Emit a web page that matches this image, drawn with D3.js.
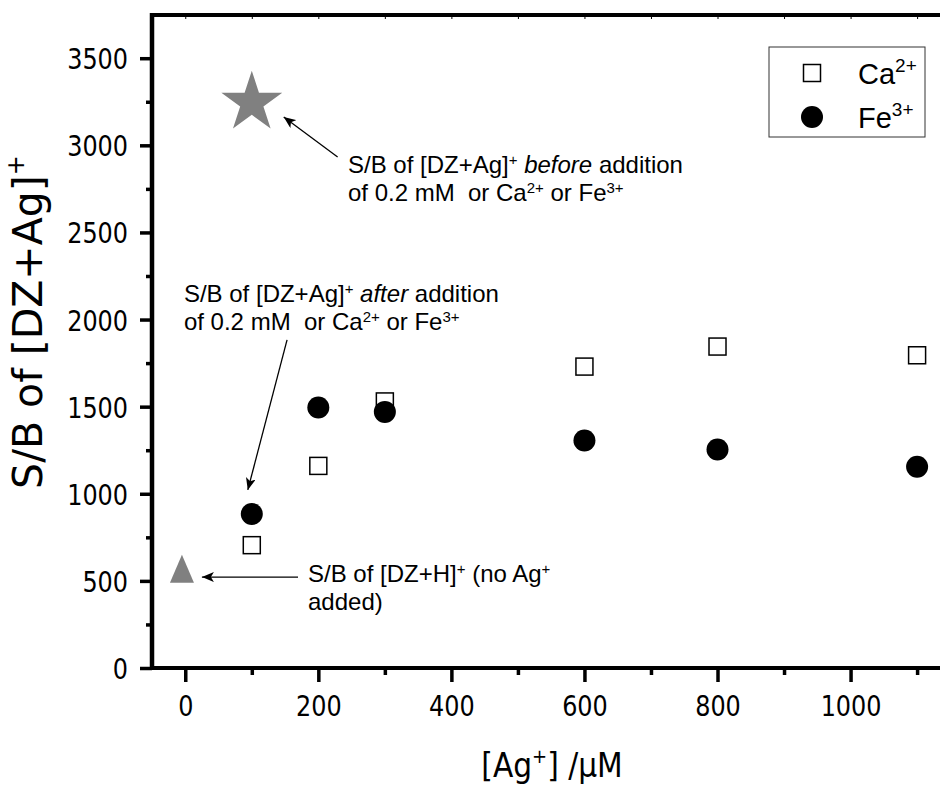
<!DOCTYPE html>
<html>
<head>
<meta charset="utf-8">
<script src="https://cdn.jsdelivr.net/npm/d3@7"></script>
<style>
  body { margin: 0; background: #fff; }
  svg { display: block; }
  .tick text { font-family: "DejaVu Sans Condensed", "DejaVu Sans", sans-serif; font-stretch: condensed; font-size: 29px; fill: #000; }
  .ann { font-family: "Liberation Sans", Arial, sans-serif; font-size: 24px; fill: #000; white-space: pre; }
</style>
</head>
<body>
<div id="chart"></div>
<script>
// data
var agConc = [100, 200, 300, 600, 800, 1100];
var caValues = [705, 1160, 1530, 1730, 1845, 1795];
var feValues = [884, 1495, 1470, 1306, 1254, 1155];
var beforePoint = [100, 3245];   // star
var noAgPoint = [-5, 570];       // triangle
var xTicks = [0, 200, 400, 600, 800, 1000];
var xMinor = [100, 300, 500, 700, 900, 1100];
var yTicks = [0, 500, 1000, 1500, 2000, 2500, 3000, 3500];
var yMinor = [250, 750, 1250, 1750, 2250, 2750, 3250];

var W = 940, H = 785;
var mLeft = 152, mTop = 15, mBottom = 668;

var svg = d3.select("#chart").append("svg")
  .attr("width", W).attr("height", H);

var x = d3.scaleLinear().domain([-50, 1150]).range([mLeft, mLeft + 1200 * 0.6653]);
var y = d3.scaleLinear().domain([0, 3748]).range([mBottom, mTop]);

// arrow head
svg.append("defs").append("marker")
  .attr("id", "head")
  .attr("viewBox", "0 0 12 10")
  .attr("refX", 12).attr("refY", 5)
  .attr("markerWidth", 12).attr("markerHeight", 10)
  .attr("markerUnits", "userSpaceOnUse")
  .attr("orient", "auto")
  .append("path").attr("d", "M0,0 L12,5 L0,10 L3,5 Z").attr("fill", "#000");

// axes
var fmt = d3.format("d");
var gx = svg.append("g").attr("transform", "translate(0," + mBottom + ")")
  .call(d3.axisBottom(x).tickValues(xTicks).tickFormat(fmt).tickSize(14).tickSizeOuter(0));
var gxm = svg.append("g").attr("transform", "translate(0," + mBottom + ")")
  .call(d3.axisBottom(x).tickValues(xMinor).tickSize(7).tickSizeOuter(0).tickFormat(""));
var gy = svg.append("g").attr("transform", "translate(" + mLeft + ",0)")
  .call(d3.axisLeft(y).tickValues(yTicks).tickFormat(fmt).tickSize(12).tickSizeOuter(0).tickPadding(12));
var gym = svg.append("g").attr("transform", "translate(" + mLeft + ",0)")
  .call(d3.axisLeft(y).tickValues(yMinor).tickSize(6).tickSizeOuter(0).tickFormat(""));
var gt = svg.append("g").attr("transform", "translate(0," + mTop + ")")
  .call(d3.axisBottom(x).tickValues(xTicks.concat(xMinor)).tickSize(4).tickSizeOuter(0).tickFormat(""));

[gx, gxm, gy, gym, gt].forEach(function(g){
  g.select(".domain").remove();
  g.selectAll(".tick line").attr("stroke", "#000").attr("stroke-width", 3.5);
});
gt.selectAll(".tick line").attr("stroke-width", 1);
gx.selectAll(".tick text").attr("y", 48).attr("dy", 0);
gy.selectAll(".tick text").attr("dy", "0.36em");
// narrow digits like the original
[gx, gy].forEach(function(g){
  g.selectAll(".tick text").each(function(){
    var s = d3.select(this);
    s.attr("textLength", s.text().length * 15.2).attr("lengthAdjust", "spacingAndGlyphs");
  });
});

// frame lines
svg.append("line").attr("x1", mLeft - 2).attr("x2", W + 10).attr("y1", mBottom).attr("y2", mBottom)
  .attr("stroke", "#000").attr("stroke-width", 4);
svg.append("line").attr("x1", mLeft - 2).attr("x2", W + 10).attr("y1", mTop).attr("y2", mTop)
  .attr("stroke", "#000").attr("stroke-width", 4);
svg.append("line").attr("x1", mLeft).attr("x2", mLeft).attr("y1", mTop - 2).attr("y2", mBottom + 2)
  .attr("stroke", "#000").attr("stroke-width", 4.5);

// axis titles
svg.append("text")
  .attr("transform", "translate(42," + 322 + ") rotate(-90)")
  .attr("text-anchor", "middle")
  .style("font-family", "'DejaVu Sans', sans-serif").style("font-size", "41px")
  .call(function(t){
    t.append("tspan").text("S/B of [DZ+Ag]");
    t.append("tspan").attr("dy", -18).style("font-size", "24px").text("+");
  });

svg.append("text")
  .attr("x", 552).attr("y", 777)
  .attr("text-anchor", "middle")
  .style("font-family", "'DejaVu Sans Condensed', 'DejaVu Sans', sans-serif")
  .style("font-stretch", "condensed").style("font-size", "33px")
  .call(function(t){
    t.append("tspan").text("[Ag");
    t.append("tspan").attr("dy", -14).style("font-size", "20px").text("+");
    t.append("tspan").attr("dy", 14).text("] /\u03bcM");
  });

// data marks
svg.append("g").selectAll("rect").data(agConc).join("rect")
  .attr("x", function(d){ return x(d) - 8.5; })
  .attr("y", function(d, i){ return y(caValues[i]) - 8.5; })
  .attr("width", 17).attr("height", 17)
  .attr("fill", "#fff").attr("stroke", "#000").attr("stroke-width", 1.5);

svg.append("g").selectAll("circle").data(agConc).join("circle")
  .attr("cx", function(d){ return x(d); })
  .attr("cy", function(d, i){ return y(feValues[i]); })
  .attr("r", 11).attr("fill", "#000");

svg.append("path")
  .attr("d", d3.symbol(d3.symbolStar, 1150)())
  .attr("transform", "translate(" + x(beforePoint[0]) + "," + y(beforePoint[1]) + ")")
  .attr("fill", "#808080");

svg.append("path")
  .attr("d", "M0,-14 L12,14 L-12,14 Z")
  .attr("transform", "translate(" + x(noAgPoint[0]) + "," + y(noAgPoint[1]) + ")")
  .attr("fill", "#808080");

// annotations (positions in data units)
var arrows = [
  {from: [229, 2933], to: [148, 3163]},
  {from: [153, 1883], to: [94, 1022]},
  {from: [169.5, 522], to: [25, 522]}
];
svg.append("g").selectAll("line").data(arrows).join("line")
  .attr("x1", function(d){ return x(d.from[0]); })
  .attr("y1", function(d){ return y(d.from[1]); })
  .attr("x2", function(d){ return x(d.to[0]); })
  .attr("y2", function(d){ return y(d.to[1]); })
  .attr("stroke", "#000").attr("stroke-width", 1.3)
  .attr("marker-end", "url(#head)");

var notes = [
  {at: [244.6, 2843], lines: [
    [{t: "S/B of [DZ+Ag]"}, {t: "+", sup: 1}, {t: " "}, {t: "before", it: 1}, {t: " addition"}],
    [{t: "of 0.2 mM  or Ca"}, {t: "2+", sup: 1}, {t: " or Fe"}, {t: "3+", sup: 1}]
  ]},
  {at: [-2, 2101], lines: [
    [{t: "S/B of [DZ+Ag]"}, {t: "+", sup: 1}, {t: " "}, {t: "after", it: 1}, {t: " addition"}],
    [{t: "of 0.2 mM  or Ca"}, {t: "2+", sup: 1}, {t: " or Fe"}, {t: "3+", sup: 1}]
  ]},
  {at: [184.5, 494], lines: [
    [{t: "S/B of [DZ+H]"}, {t: "+", sup: 1}, {t: " (no Ag"}, {t: "+", sup: 1}],
    [{t: "added)"}]
  ]}
];

notes.forEach(function(n){
  n.lines.forEach(function(line, li){
    var t = svg.append("text").attr("class", "ann")
      .attr("x", x(n.at[0])).attr("y", y(n.at[1]) + li * 28);
    var raised = false;
    line.forEach(function(s){
      var sp = t.append("tspan").text(s.t);
      if (s.sup) {
        sp.style("font-size", "15px").attr("dy", raised ? 0 : -8);
        raised = true;
      } else {
        if (raised) { sp.attr("dy", 8); raised = false; }
      }
      if (s.it) sp.style("font-style", "italic");
    });
  });
});

// legend
var lg = svg.append("g");
lg.append("rect").attr("x", 769).attr("y", 47).attr("width", 156).attr("height", 90)
  .attr("fill", "#fff").attr("stroke", "#333").attr("stroke-width", 1);
lg.append("rect").attr("x", 812 - 8.5).attr("y", 73 - 8.5).attr("width", 17).attr("height", 17)
  .attr("fill", "#fff").attr("stroke", "#000").attr("stroke-width", 1.5);
lg.append("circle").attr("cx", 812).attr("cy", 117).attr("r", 11).attr("fill", "#000");
var legendItems = [["Ca", "2+", 84], ["Fe", "3+", 128]];
legendItems.forEach(function(d){
  var t = lg.append("text").attr("x", 858).attr("y", d[2])
    .style("font-family", "'Liberation Sans', Arial, sans-serif").style("font-size", "29px");
  t.append("tspan").text(d[0]);
  t.append("tspan").attr("dy", -12).style("font-size", "19px").text(d[1]);
});
</script>
</body>
</html>
